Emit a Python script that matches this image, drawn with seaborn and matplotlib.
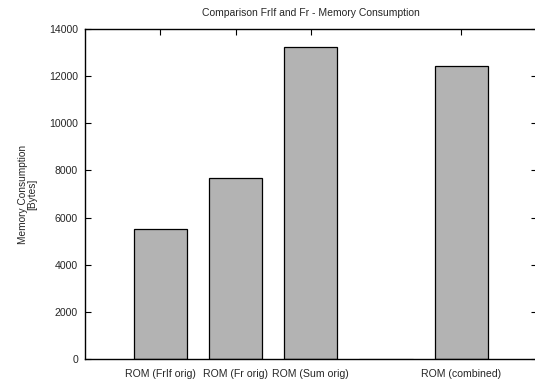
import pandas as pd
import matplotlib
matplotlib.use('Agg')
import matplotlib.pyplot as plt
import seaborn as sns

# ============================================================================
# DATA
# ============================================================================

categories = ['ROM (FrIf orig)', 'ROM (Fr orig)', 'ROM (Sum orig)', '', 'ROM (combined)']
memory_bytes = [5530, 7700, 13230, 0, 12420]
y_ticks = [0, 2000, 4000, 6000, 8000, 10000, 12000, 14000]

df = pd.DataFrame({'category': categories, 'bytes': memory_bytes})

# ============================================================================
# PLOT
# ============================================================================

sns.set_style('white')
plt.rcParams['font.family'] = ['Liberation Sans', 'DejaVu Sans']

fig = plt.figure(figsize=(5.35, 3.79), dpi=100)
ax = fig.add_axes([85 / 535, 1 - 359 / 379, 451.5 / 535, 330 / 379])

sns.barplot(data=df, x='category', y='bytes', order=categories,
            color='#b3b3b3', saturation=1, width=0.71,
            edgecolor='black', linewidth=0.9, ax=ax)

# zero-height slot drawn as a faint line, like the reference
ax.patches[3].set_edgecolor('#8c8c8c')

ax.set_xlim(-1.0, 5.0)
ax.set_ylim(0, 14000)

label_idx = [i for i, c in enumerate(categories) if c]
ax.set_xticks(label_idx)
ax.set_xticklabels([categories[i] for i in label_idx], fontsize=7.6)
ax.set_yticks(y_ticks)
ax.set_yticklabels([str(v) for v in y_ticks], fontsize=7.6)

ax.tick_params(axis='both', direction='in', length=4, width=0.8, color='black',
               top=True, right=True, bottom=True, left=True)
ax.tick_params(axis='x', pad=7)
ax.tick_params(axis='y', pad=5)

for side in ['left', 'bottom', 'top', 'right']:
    ax.spines[side].set_visible(True)
    ax.spines[side].set_color('black')
    ax.spines[side].set_linewidth(1.0)

ax.set_xlabel('')
ax.set_ylabel('Memory Consumption\n[Bytes]', fontsize=7.3, multialignment='center',
              linespacing=1.0)
ax.yaxis.set_label_coords(-0.105, 0.5)

ax.set_title('Comparison FrIf and Fr - Memory Consumption', fontsize=7.5, pad=9.5)

fig.savefig('out.png', dpi=100)
